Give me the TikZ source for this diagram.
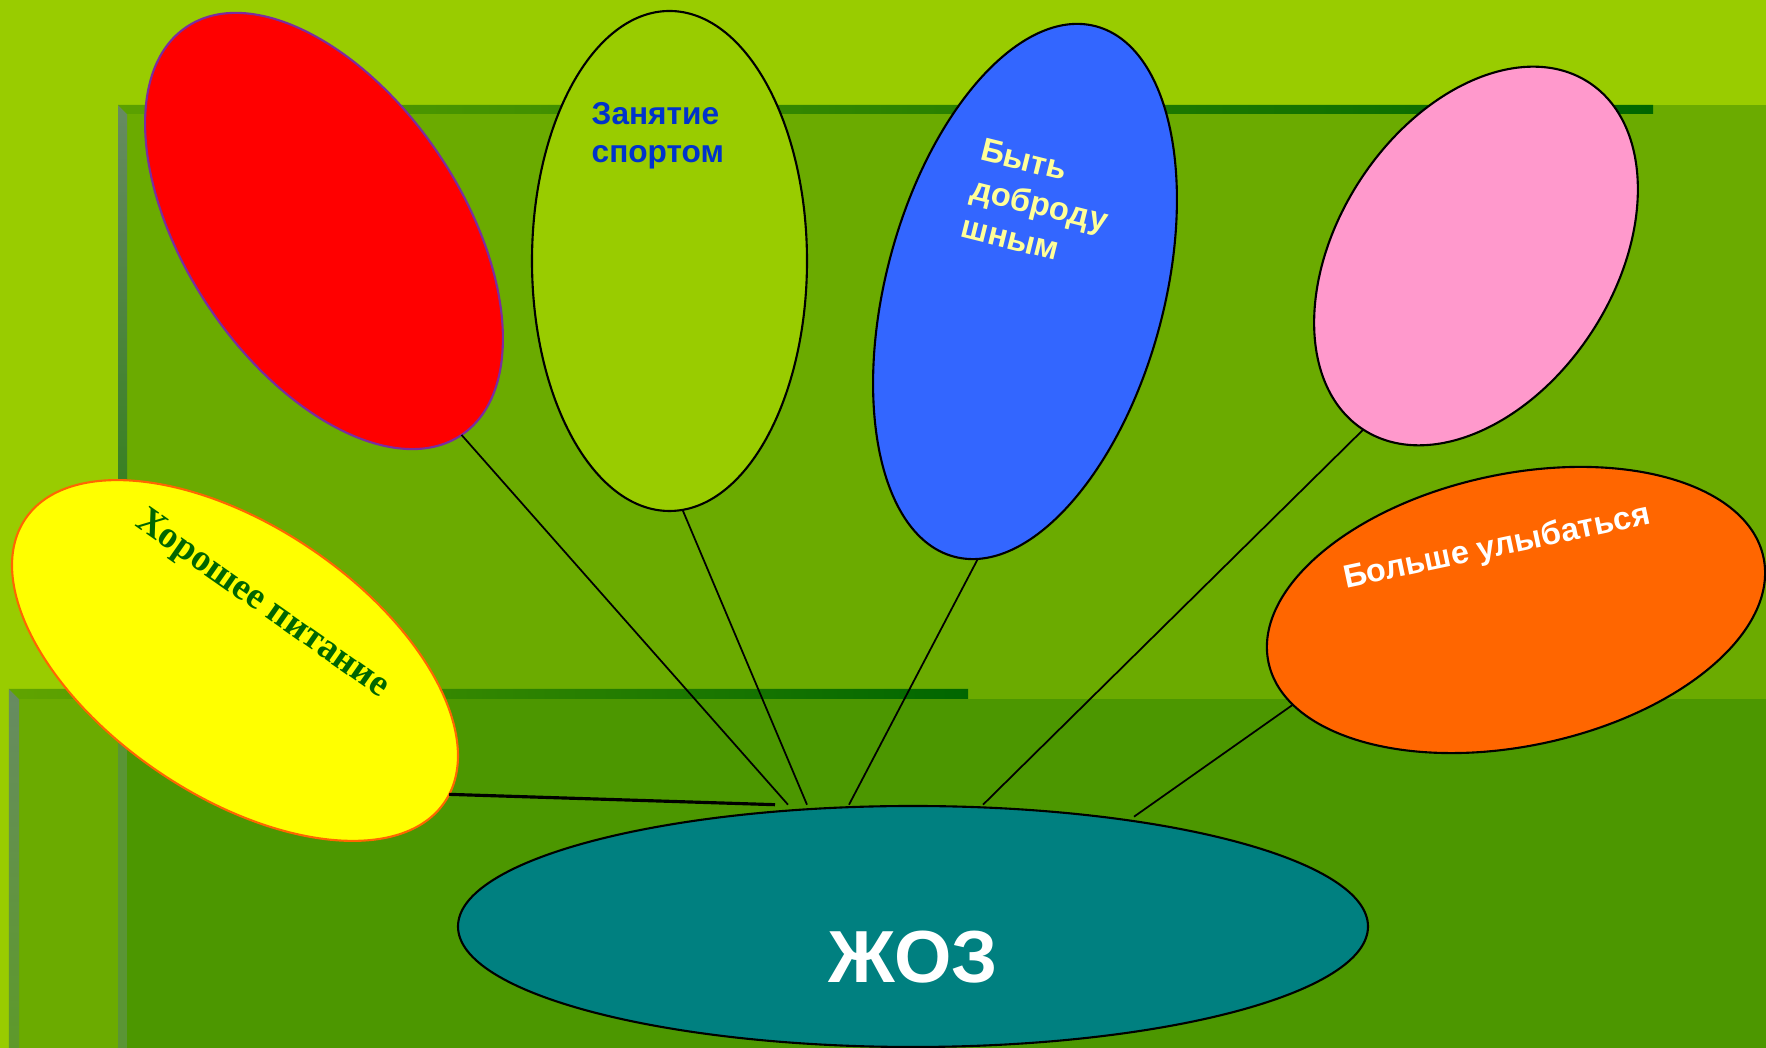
\documentclass[tikz,border=0pt]{standalone}
\usepackage{fontspec}
\setmainfont{Liberation Serif}
\setsansfont{Liberation Sans}
\usetikzlibrary{shapes.geometric}

\definecolor{lightgrass}{HTML}{99CC00}
\definecolor{midgrass}{HTML}{6BAB00}
\definecolor{deepgrass}{HTML}{4C9700}
\definecolor{forest}{HTML}{006600}
\definecolor{ashgreen}{HTML}{678B62}
\definecolor{mossgreen}{HTML}{5A9535}
\definecolor{balloonblue}{HTML}{3366FF}
\definecolor{balloonpink}{HTML}{FF99CC}
\definecolor{balloonorange}{HTML}{FF6600}
\definecolor{balloonyellow}{HTML}{FFFF00}
\definecolor{balloonteal}{HTML}{008080}
\definecolor{textblue}{HTML}{0033CC}
\definecolor{paleyellow}{HTML}{FFFF99}
\definecolor{plum}{HTML}{7B2CA0}

\tikzset{
	balloon/.style={ellipse, draw=black, line width=0.6pt, inner sep=0pt, outer sep=0pt},
	string/.style={draw=black, line width=0.5pt},
	caption/.style={inner sep=0pt, align=left, font=\sffamily\bfseries\fontsize{9}{10.7}\selectfont},
}

\begin{document}
\begin{tikzpicture}
		\useasboundingbox (0, 0) rectangle (17.66, 10.48);

		%%% Background
		\fill[lightgrass] (0, 0) rectangle (17.66, 10.48);
		\fill[midgrass] (1.18, 0) rectangle (17.66, 9.43);
		\fill[midgrass] (0.09, 0) rectangle (17.66, 3.59);
		\fill[deepgrass] (1.27, 0) rectangle (17.66, 3.49);

		\shade[top color=ashgreen, bottom color=forest!70!midgrass] (1.18, 9.43) -- (1.27, 9.34) -- (1.27, 3.59) -- (1.18, 3.59) -- cycle;
		\fill[mossgreen] (1.18, 0) rectangle (1.27, 3.49);
		\shade[top color=ashgreen, bottom color=mossgreen!80!midgrass] (0.09, 3.59) -- (0.19, 3.49) -- (0.19, 0) -- (0.09, 0) -- cycle;

		\shade[left color=midgrass!85!forest, right color=forest] (1.18, 9.43) -- (16.53, 9.43) -- (16.53, 9.34) -- (1.27, 9.34) -- cycle;
		\shade[left color=midgrass!90!forest, right color=forest] (0.09, 3.59) -- (9.68, 3.59) -- (9.68, 3.49) -- (0.19, 3.49) -- cycle;

		%%% Balloons
		\node[balloon, draw=plum, fill=red, minimum width=2.76cm, minimum height=4.92cm, rotate=34] (redball) at (3.24, 8.17) {};
		\node[balloon, fill=lightgrass, minimum width=2.75cm, minimum height=5cm] (sport) at (6.695, 7.87) {};
		\node[balloon, fill=balloonblue, minimum width=2.78cm, minimum height=5.49cm, rotate=-15] (kind) at (10.25, 7.565) {};
		\node[balloon, fill=balloonpink, minimum width=2.77cm, minimum height=4.14cm, rotate=-33] (pinkball) at (14.76, 7.92) {};
		\node[balloon, fill=balloonorange, minimum width=5.06cm, minimum height=2.72cm, rotate=12] (smile) at (15.16, 4.38) {};
		\node[balloon, draw=balloonorange, fill=balloonyellow, minimum width=5.06cm, minimum height=2.70cm, rotate=-34] (food) at (2.35, 3.875) {};
		\node[balloon, fill=balloonteal, minimum width=9.10cm, minimum height=2.41cm] (zoj) at (9.13, 1.215) {};

		%%% Strings
		\coordinate (tie1) at (7.75, 2.433);
		\coordinate (tie2) at (7.88, 2.433);
		\coordinate (tie3) at (8.07, 2.433);
		\coordinate (tie4) at (8.49, 2.433);
		\coordinate (tie5) at (9.83, 2.433);
		\coordinate (tie6) at (11.34, 2.313);

		\draw[string, line width=0.9pt] (food.2) -- (tie1);
		\draw[string] (redball.south) -- (tie2);
		\draw[string] (sport.-87) -- (tie3);
		\draw[string] (kind.-85) -- (tie4);
		\draw[string] (pinkball.south) -- (tie5);
		\draw[string] (smile.191) -- (tie6);

		%%% Labels
		\node[caption, text=textblue, anchor=north west] (sporttext) at (5.91, 9.46) {Занятие\\спортом};
		\node[caption, text=paleyellow, anchor=north west, rotate=-14, font=\sffamily\bfseries\fontsize{9.3}{11.3}\selectfont] (kindtext) at (9.84, 9.11) {Быть\\доброду\\шным};
		\node[caption, text=white, anchor=base, rotate=12, font=\sffamily\bfseries\fontsize{9.2}{11}\selectfont] (smiletext) at (14.99, 4.92) {Больше улыбаться};
		\node[text=forest, inner sep=0pt, rotate=-35, font=\rmfamily\bfseries\fontsize{10.7}{13}\selectfont] (foodtext) at (2.62, 4.43) {Хорошее питание};
		\node[text=white, inner sep=0pt, anchor=base, font=\sffamily\bfseries\fontsize{21}{25}\selectfont] (zojtext) at (9.13, 0.65) {ЖОЗ};
\end{tikzpicture}
\end{document}
